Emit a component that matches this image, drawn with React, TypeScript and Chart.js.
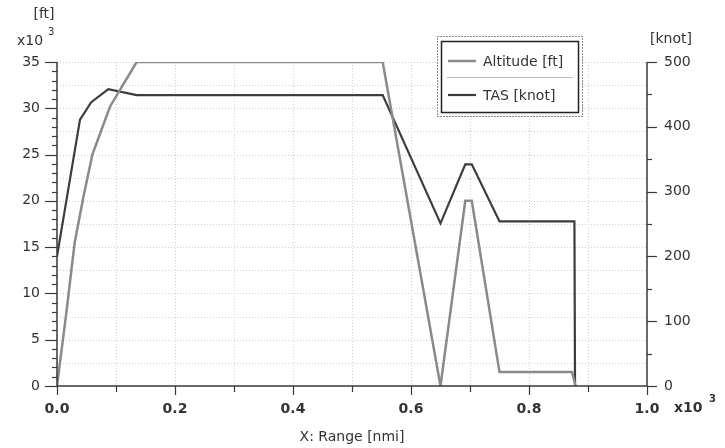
import React, { useEffect, useRef } from 'react';
import { Chart, registerables } from 'chart.js';

Chart.register(...registerables);

// Range in nmi (axis shows x10^3)
const altitudeRange = [0, 15, 30, 45, 60, 75, 90, 135, 552, 650, 692, 703, 750, 873, 879];
// Altitude in ft x10^3
const altitudeFt = [0, 7.5, 15.5, 20.5, 25, 27.6, 30.2, 35, 35, 0, 20, 20, 1.5, 1.5, 0];
const tasRange = [0, 39, 58, 87, 135, 552, 650, 692, 703, 750, 877, 878];
const tasKnot = [200, 411, 438, 458, 449, 449, 251, 342, 342, 254, 254, 0];

const legendLabels = ['Altitude [ft]', 'TAS [knot]'];
const xTitle = 'X: Range [nmi]';

const FONT = '"DejaVu Sans", sans-serif';
const ALT_COLOR = '#8a8a8a';
const TAS_COLOR = '#3c3c3c';
const TEXT = '#333333';

const overlay = {
  id: 'overlay',
  beforeDatasetsDraw(chart: any) {
    const { ctx, chartArea: a, scales } = chart;
    const x = scales.x, y = scales.y;
    ctx.save();
    ctx.strokeStyle = '#cfcfcf';
    ctx.lineWidth = 1;
    ctx.setLineDash([1, 2]);
    for (let v = 100; v < 1000; v += 100) {
      const px = Math.round(x.getPixelForValue(v)) + 0.5;
      ctx.beginPath(); ctx.moveTo(px, a.top); ctx.lineTo(px, a.bottom); ctx.stroke();
    }
    for (let v = 2.5; v <= 35; v += 2.5) {
      const py = Math.round(y.getPixelForValue(v)) + 0.5;
      ctx.beginPath(); ctx.moveTo(a.left, py); ctx.lineTo(a.right, py); ctx.stroke();
    }
    ctx.restore();
  },
  afterDatasetsDraw(chart: any) {
    const { ctx, chartArea: a, scales } = chart;
    const x = scales.x, y = scales.y, y1 = scales.y1;
    ctx.save();
    ctx.strokeStyle = '#3a3a3a';
    ctx.lineWidth = 1.5;
    ctx.setLineDash([]);
    // axis lines
    ctx.beginPath();
    ctx.moveTo(a.left, a.top); ctx.lineTo(a.left, a.bottom); ctx.lineTo(a.right, a.bottom); ctx.lineTo(a.right, a.top);
    ctx.stroke();
    ctx.lineWidth = 1.2;
    // left ticks
    for (let v = 0; v <= 35; v += 1) {
      const py = Math.round(y.getPixelForValue(v)) + 0.5;
      const len = v % 5 === 0 ? 12 : 5;
      ctx.beginPath(); ctx.moveTo(a.left - len, py); ctx.lineTo(a.left, py); ctx.stroke();
    }
    // right ticks
    for (let v = 0; v <= 500; v += 50) {
      const py = Math.round(y1.getPixelForValue(v)) + 0.5;
      const len = v % 100 === 0 ? 10 : 5;
      ctx.beginPath(); ctx.moveTo(a.right, py); ctx.lineTo(a.right + len, py); ctx.stroke();
    }
    // bottom ticks
    for (let v = 0; v <= 1000; v += 100) {
      const px = Math.round(x.getPixelForValue(v)) + 0.5;
      const len = v % 200 === 0 ? 9 : 6;
      ctx.beginPath(); ctx.moveTo(px, a.bottom); ctx.lineTo(px, a.bottom + len); ctx.stroke();
    }

    // unit texts
    ctx.fillStyle = TEXT;
    ctx.textBaseline = 'middle';
    ctx.font = `14px ${FONT}`;
    ctx.textAlign = 'center';
    ctx.fillText('[ft]', 44, 14);
    ctx.fillText('[knot]', 671, 39);
    ctx.textAlign = 'left';
    ctx.fillText('x10', 17, 41);
    ctx.font = `bold 14px ${FONT}`;
    ctx.fillText('x10', 674, 408);
    ctx.font = `10px ${FONT}`;
    ctx.fillText('3', 48, 32);
    ctx.font = `bold 10px ${FONT}`;
    ctx.fillText('3', 709, 399);
    ctx.font = `14px ${FONT}`;
    ctx.textAlign = 'center';
    ctx.fillText(xTitle, 352, 437);

    // legend
    ctx.fillStyle = '#ffffff';
    ctx.fillRect(437, 36, 146, 81);
    ctx.strokeStyle = '#111';
    ctx.lineWidth = 1;
    ctx.setLineDash([1, 2]);
    ctx.strokeRect(437.5, 36.5, 145, 80);
    ctx.setLineDash([]);
    ctx.lineWidth = 1.5;
    ctx.strokeStyle = '#222';
    ctx.strokeRect(441.5, 41.5, 137, 71);
    ctx.strokeStyle = '#bdbdbd';
    ctx.lineWidth = 1;
    ctx.beginPath(); ctx.moveTo(447, 77.5); ctx.lineTo(573, 77.5); ctx.stroke();
    const rows = [
      { label: legendLabels[0], color: ALT_COLOR, w: 2.5, yy: 61 },
      { label: legendLabels[1], color: TAS_COLOR, w: 2.2, yy: 95 },
    ];
    ctx.textAlign = 'left';
    ctx.font = `14px ${FONT}`;
    for (const r of rows) {
      ctx.strokeStyle = r.color;
      ctx.lineWidth = r.w;
      ctx.beginPath(); ctx.moveTo(448, r.yy); ctx.lineTo(476, r.yy); ctx.stroke();
      ctx.fillStyle = TEXT;
      ctx.fillText(r.label, 483, r.yy + 1);
    }
    ctx.restore();
  },
};

export default function App() {
  const ref = useRef<HTMLCanvasElement | null>(null);
  useEffect(() => {
    if (!ref.current) return;
    const chart = new Chart(ref.current, {
      type: 'line',
      data: {
        datasets: [
          {
            label: legendLabels[0],
            data: altitudeRange.map((r, i) => ({ x: r, y: altitudeFt[i] })),
            borderColor: ALT_COLOR,
            borderWidth: 2.5,
            pointRadius: 0,
            tension: 0,
            yAxisID: 'y',
          },
          {
            label: legendLabels[1],
            data: tasRange.map((r, i) => ({ x: r, y: tasKnot[i] })),
            borderColor: TAS_COLOR,
            borderWidth: 2.2,
            pointRadius: 0,
            tension: 0,
            yAxisID: 'y1',
          },
        ],
      },
      options: {
        animation: false,
        responsive: false,
        maintainAspectRatio: false,
        layout: { padding: { top: 62, left: 0, right: 0, bottom: 0 } },
        plugins: { legend: { display: false }, tooltip: { enabled: false } },
        scales: {
          x: {
            type: 'linear',
            min: 0,
            max: 1000,
            grid: { display: false, drawTicks: false },
            border: { display: false },
            ticks: {
              stepSize: 200,
              autoSkip: false,
              maxRotation: 0,
              padding: 15,
              color: TEXT,
              font: { family: FONT, size: 14, weight: 'bold' },
              callback: (v: any) => (Number(v) / 1000).toFixed(1),
            },
            afterFit: (s: any) => { s.height = 62; },
          },
          y: {
            position: 'left',
            min: 0,
            max: 35,
            grid: { display: false, drawTicks: false },
            border: { display: false },
            ticks: {
              stepSize: 5,
              padding: 17,
              color: TEXT,
              font: { family: FONT, size: 14 },
            },
            afterFit: (s: any) => { s.width = 57; },
          },
          y1: {
            position: 'right',
            min: 0,
            max: 500,
            grid: { display: false, drawTicks: false },
            border: { display: false },
            ticks: {
              stepSize: 100,
              padding: 17,
              color: TEXT,
              font: { family: FONT, size: 14 },
            },
            afterFit: (s: any) => { s.width = 78; },
          },
        },
      },
      plugins: [overlay],
    });
    return () => chart.destroy();
  }, []);
  return (
    <div style={{ position: 'fixed', left: 0, top: 0, width: 725, height: 448, background: '#fff' }}>
      <canvas ref={ref} width={725} height={448} style={{ width: 725, height: 448 }} />
    </div>
  );
}
